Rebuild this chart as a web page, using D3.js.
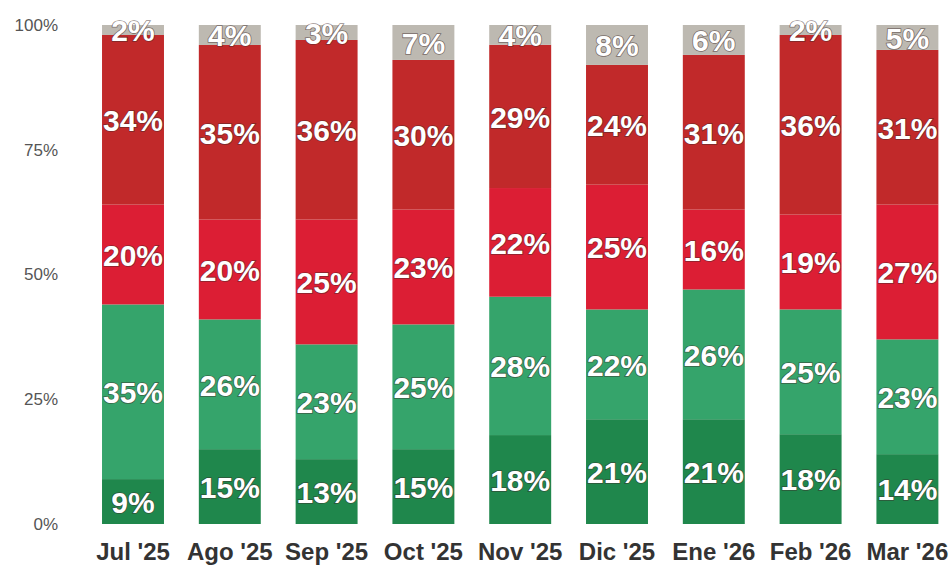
<!DOCTYPE html>
<html><head><meta charset="utf-8">
<script src="https://cdn.jsdelivr.net/npm/d3@7"></script>
<style>
html,body{margin:0;padding:0;background:#fff;}
svg{display:block;font-family:"Liberation Sans",Arial,sans-serif;}
</style></head>
<body>
<svg id="chart" width="952" height="568"></svg>
<script>
const categories = ["Jul '25","Ago '25","Sep '25","Oct '25","Nov '25","Dic '25","Ene '26","Feb '26","Mar '26"];
const seriesNames = ["s1","s2","s3","s4","s5"];
const s1 = [9,15,13,15,18,21,21,18,14];
const s2 = [35,26,23,25,28,22,26,25,23];
const s3 = [20,20,25,23,22,25,16,19,27];
const s4 = [34,35,36,30,29,24,31,36,31];
const s5 = [2,4,3,7,4,8,6,2,5];
const yTicks = [0,0.25,0.5,0.75,1];
const colors = ["#1f874c","#35a46b","#dc1e34","#c1292a","#bdb9b1"];

const seriesArrays = [s1,s2,s3,s4,s5];
const table = categories.map((c,i)=>{
  const o = {cat:c};
  seriesNames.forEach((n,k)=>o[n]=seriesArrays[k][i]);
  return o;
});

const svg = d3.select("#chart");
const x = d3.scaleBand().domain(categories).range([84.6,955.8]).paddingInner(0.36).paddingOuter(0.18);
const y = d3.scaleLinear().domain([0,1]).range([524,25]);

const stack = d3.stack().keys(seriesNames).offset(d3.stackOffsetExpand);
const stacked = stack(table);

const g = svg.append("g");
stacked.forEach((layer,k)=>{
  const lg = g.append("g").attr("fill",colors[k]);
  lg.selectAll("rect").data(layer).enter().append("rect")
    .attr("x",d=>x(d.data.cat))
    .attr("width",x.bandwidth())
    .attr("y",d=>y(d[1]))
    .attr("height",d=>y(d[0])-y(d[1]));
});
stacked.forEach((layer,k)=>{
  g.append("g").selectAll("text").data(layer).enter().append("text")
    .attr("x",d=>x(d.data.cat)+x.bandwidth()/2)
    .attr("y",d=>y((d[0]+d[1])/2))
    .attr("dy","0.38em")
    .attr("text-anchor","middle")
    .attr("font-size",30)
    .attr("font-weight","bold")
    .attr("fill","#fff")
    .attr("stroke","rgba(60,40,40,0.55)")
    .attr("stroke-width",1.6)
    .attr("paint-order","stroke")
    .text(d=>d.data[seriesNames[k]]+"%");
});

// y axis
const yAxis = d3.axisLeft(y).tickValues(yTicks).tickFormat(d3.format(".0%")).tickSize(0).tickPadding(0);
const ya = svg.append("g").attr("transform","translate(58,0)").call(yAxis);
ya.select(".domain").remove();
ya.selectAll("text").attr("font-size",17).attr("fill","#555").attr("font-family","Liberation Sans, Arial, sans-serif");

// x axis
const xAxis = d3.axisBottom(x).tickSize(0).tickPadding(0);
const xa = svg.append("g").attr("transform","translate(0,548)").call(xAxis);
xa.select(".domain").remove();
xa.selectAll("text").attr("font-size",24).attr("font-weight","bold").attr("fill","#333")
  .attr("dy","0.5em").attr("font-family","Liberation Sans, Arial, sans-serif");
</script>
</body></html>
